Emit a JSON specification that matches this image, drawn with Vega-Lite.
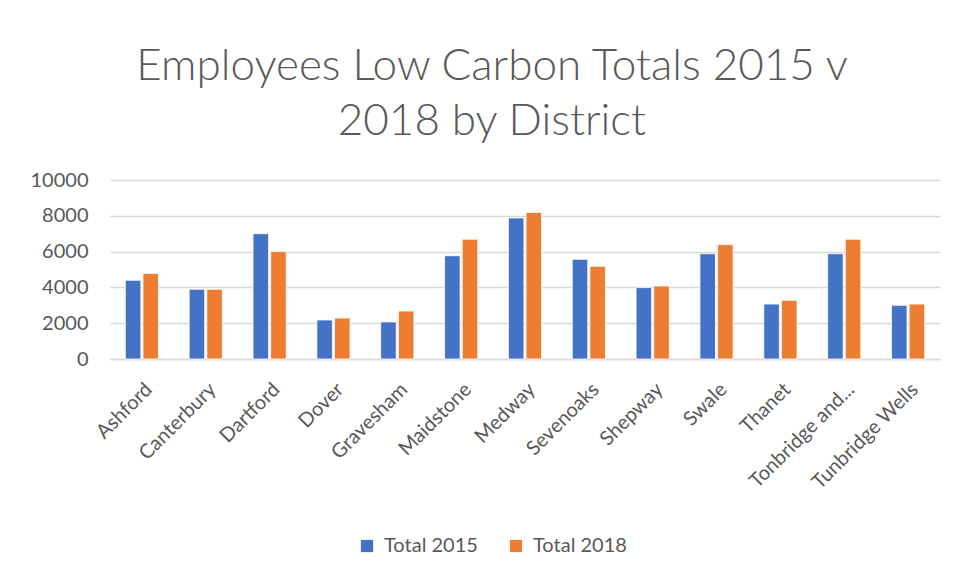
{
  "$schema": "https://vega.github.io/schema/vega-lite/v6.json",
  "autosize": {"type": "none"},
  "width": 830,
  "height": 179,
  "padding": {"left": 110, "top": 180, "right": 17, "bottom": 214},
  "background": "white",
  "title": {
    "text": ["Employees Low Carbon Totals 2015 v", "2018 by District"],
    "font": "Lato",
    "fontSize": 44,
    "fontWeight": 300,
    "color": "#595959",
    "lineHeight": 55,
    "anchor": "middle",
    "frame": "group",
    "dx": -33,
    "baseline": "bottom",
    "offset": -18
  },
  "data": {
    "values": [
      {"district": "Ashford", "series": "Total 2015", "value": 4400},
      {"district": "Ashford", "series": "Total 2018", "value": 4780},
      {"district": "Canterbury", "series": "Total 2015", "value": 3900},
      {"district": "Canterbury", "series": "Total 2018", "value": 3900},
      {"district": "Dartford", "series": "Total 2015", "value": 7000},
      {"district": "Dartford", "series": "Total 2018", "value": 6000},
      {"district": "Dover", "series": "Total 2015", "value": 2180},
      {"district": "Dover", "series": "Total 2018", "value": 2290},
      {"district": "Gravesham", "series": "Total 2015", "value": 2070},
      {"district": "Gravesham", "series": "Total 2018", "value": 2680},
      {"district": "Maidstone", "series": "Total 2015", "value": 5770},
      {"district": "Maidstone", "series": "Total 2018", "value": 6690},
      {"district": "Medway", "series": "Total 2015", "value": 7880},
      {"district": "Medway", "series": "Total 2018", "value": 8190},
      {"district": "Sevenoaks", "series": "Total 2015", "value": 5570},
      {"district": "Sevenoaks", "series": "Total 2018", "value": 5180},
      {"district": "Shepway", "series": "Total 2015", "value": 3990},
      {"district": "Shepway", "series": "Total 2018", "value": 4080},
      {"district": "Swale", "series": "Total 2015", "value": 5880},
      {"district": "Swale", "series": "Total 2018", "value": 6390},
      {"district": "Thanet", "series": "Total 2015", "value": 3070},
      {"district": "Thanet", "series": "Total 2018", "value": 3280},
      {"district": "Tonbridge and...", "series": "Total 2015", "value": 5880},
      {"district": "Tonbridge and...", "series": "Total 2018", "value": 6690},
      {"district": "Tunbridge Wells", "series": "Total 2015", "value": 3000},
      {"district": "Tunbridge Wells", "series": "Total 2018", "value": 3070}
    ]
  },
  "mark": {"type": "bar", "stroke": "white", "strokeWidth": 0.8},
  "encoding": {
    "x": {
      "field": "district",
      "type": "nominal",
      "sort": null,
      "title": null,
      "scale": {"paddingInner": 0.48, "paddingOuter": 0.24},
      "axis": {
        "labelAngle": -45,
        "labelAlign": "right",
        "labelBaseline": "top",
        "labelFont": "Lato",
        "labelFontSize": 20,
        "labelColor": "#595959",
        "labelPadding": 20,
        "ticks": false,
        "domainColor": "#D9D9D9",
        "domainWidth": 1.5,
        "grid": false,
        "labelOverlap": false
      }
    },
    "xOffset": {
      "field": "series",
      "type": "nominal",
      "scale": {"paddingInner": 0.12}
    },
    "y": {
      "field": "value",
      "type": "quantitative",
      "title": null,
      "scale": {"domain": [0, 10000], "nice": false},
      "axis": {
        "values": [0, 2000, 4000, 6000, 8000, 10000],
        "format": "d",
        "labelFont": "Lato",
        "labelFontSize": 20,
        "labelColor": "#595959",
        "labelPadding": 22,
        "ticks": false,
        "domain": false,
        "gridColor": "#D9D9D9",
        "gridWidth": 1.5
      }
    },
    "color": {
      "field": "series",
      "type": "nominal",
      "scale": {"domain": ["Total 2015", "Total 2018"], "range": ["#4472C4", "#ED7D31"]},
      "legend": {
        "title": null,
        "orient": "none",
        "direction": "horizontal",
        "legendX": 247,
        "legendY": 356,
        "symbolType": "square",
        "symbolSize": 150,
        "symbolStrokeWidth": 0,
        "labelFont": "Lato",
        "labelFontSize": 20,
        "labelColor": "#595959",
        "labelOffset": 7,
        "columnPadding": 28
      }
    }
  },
  "config": {"view": {"stroke": null}}
}
